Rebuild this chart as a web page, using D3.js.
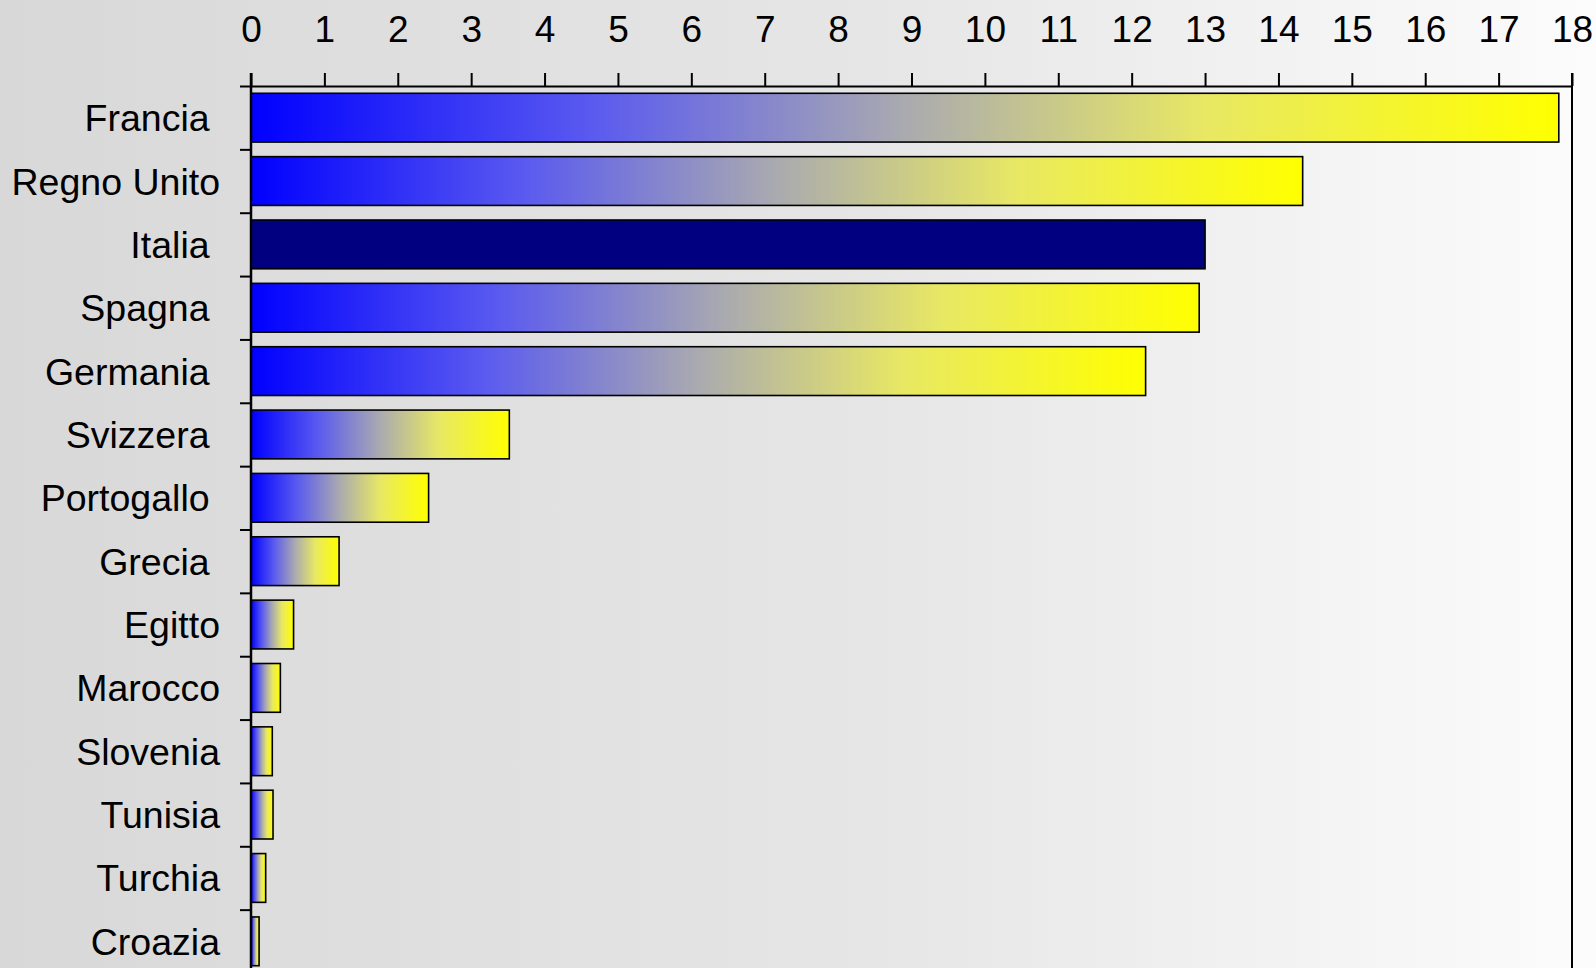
<!DOCTYPE html>
<html>
<head>
<meta charset="utf-8">
<script src="https://cdn.jsdelivr.net/npm/d3@7"></script>
<style>
  html, body { margin: 0; padding: 0; overflow: hidden; }
  text { font-family: "Liberation Sans", Arial, sans-serif; fill: #000; }
</style>
</head>
<body>
<div id="chart"></div>
<script>
// data
var countries = ["Francia ", "Regno Unito", "Italia ", "Spagna ", "Germania ", "Svizzera ",
                 "Portogallo ", "Grecia ", "Egitto", "Marocco", "Slovenia", "Tunisia", "Turchia", "Croazia"];
var values = [17.82, 14.33, 13.0, 12.92, 12.19, 3.52, 2.42, 1.2, 0.58, 0.4, 0.29, 0.3, 0.2, 0.11];
var highlighted = ["Italia "];
var xTicks = d3.range(0, 19);

var W = 1596, H = 968;
var margin = {top: 86, right: 24, bottom: -5, left: 251},
    width = W - margin.left - margin.right,
    height = H - margin.top - margin.bottom;

var svg = d3.select("#chart")
  .append("svg")
    .attr("width", W)
    .attr("height", H);

var defs = svg.append("defs");

// page background, grey on the left to near white on the right
var bg = defs.append("linearGradient")
    .attr("id", "bg")
    .attr("x1", 0).attr("x2", 1).attr("y1", 0).attr("y2", 0);
bg.selectAll("stop")
  .data([[0, "#d8d8d8"], [0.3, "#e0e0e0"], [0.55, "#e6e6e6"], [0.8, "#f2f2f2"], [1, "#fcfcfc"]])
  .enter().append("stop")
    .attr("offset", function (d) { return d[0]; })
    .attr("stop-color", function (d) { return d[1]; });

// bar fill: blue -> grey -> yellow over each bar's own width
var barGrad = defs.append("linearGradient")
    .attr("id", "barGrad")
    .attr("x1", 0).attr("x2", 1).attr("y1", 0).attr("y2", 0);
barGrad.selectAll("stop")
  .data([[0, "#0000ff"], [0.26, "#5a5af0"], [0.5, "#aaaab0"], [0.73, "#e8e864"], [1, "#ffff00"]])
  .enter().append("stop")
    .attr("offset", function (d) { return d[0]; })
    .attr("stop-color", function (d) { return d[1]; });

svg.append("rect")
    .attr("width", W).attr("height", H)
    .attr("fill", "url(#bg)");

var g = svg.append("g")
    .attr("transform", "translate(" + margin.left + "," + margin.top + ")");

// scales
var x = d3.scaleLinear()
  .domain([0, 18])
  .range([0, width]);

var y = d3.scaleBand()
  .domain(countries)
  .range([0, height])
  .paddingInner(0.23)
  .paddingOuter(0.115);

var yEdge = d3.scaleLinear()
  .domain([0, countries.length])
  .range([0, height]);

// bars
g.append("g")
  .selectAll("rect")
  .data(countries)
  .enter()
  .append("rect")
    .attr("x", x(0))
    .attr("y", function (d) { return y(d); })
    .attr("width", function (d, i) { return x(values[i]) - x(0); })
    .attr("height", y.bandwidth())
    .attr("fill", function (d) { return highlighted.indexOf(d) >= 0 ? "#000080" : "url(#barGrad)"; })
    .attr("stroke", "#000")
    .attr("stroke-width", 1.6);

// top axis
var xAxis = g.append("g")
  .call(d3.axisTop(x).tickValues(xTicks).tickSize(13).tickSizeOuter(0).tickPadding(30));
xAxis.select(".domain").attr("stroke-width", 2);
xAxis.selectAll(".tick line").attr("stroke-width", 2);
xAxis.selectAll(".tick text")
  .attr("font-size", 37)
  .attr("font-family", "Liberation Sans, Arial, sans-serif")
  .attr("dy", "-0.02em");

// left axis: tick marks on the band edges
var yAxis = g.append("g")
  .call(d3.axisLeft(yEdge).tickValues(d3.range(countries.length + 1)).tickSize(11).tickSizeOuter(0).tickFormat(""));
yAxis.select(".domain").remove();
yAxis.selectAll(".tick line").attr("stroke-width", 2);

// left and right frame lines
g.append("line")
    .attr("x1", x(0)).attr("x2", x(0))
    .attr("y1", -13).attr("y2", height + 10)
    .attr("stroke", "#000").attr("stroke-width", 2.5);
g.append("line")
    .attr("x1", x(18)).attr("x2", x(18))
    .attr("y1", -13).attr("y2", height + 10)
    .attr("stroke", "#000").attr("stroke-width", 2);

// category labels
g.append("g")
  .selectAll("text")
  .data(countries)
  .enter()
  .append("text")
    .attr("x", -31)
    .attr("y", function (d) { return yEdge(countries.indexOf(d) + 0.5); })
    .attr("dy", "0.36em")
    .attr("text-anchor", "end")
    .attr("font-size", 37.5)
    .style("white-space", "pre")
    .text(function (d) { return d; });
</script>
</body>
</html>
